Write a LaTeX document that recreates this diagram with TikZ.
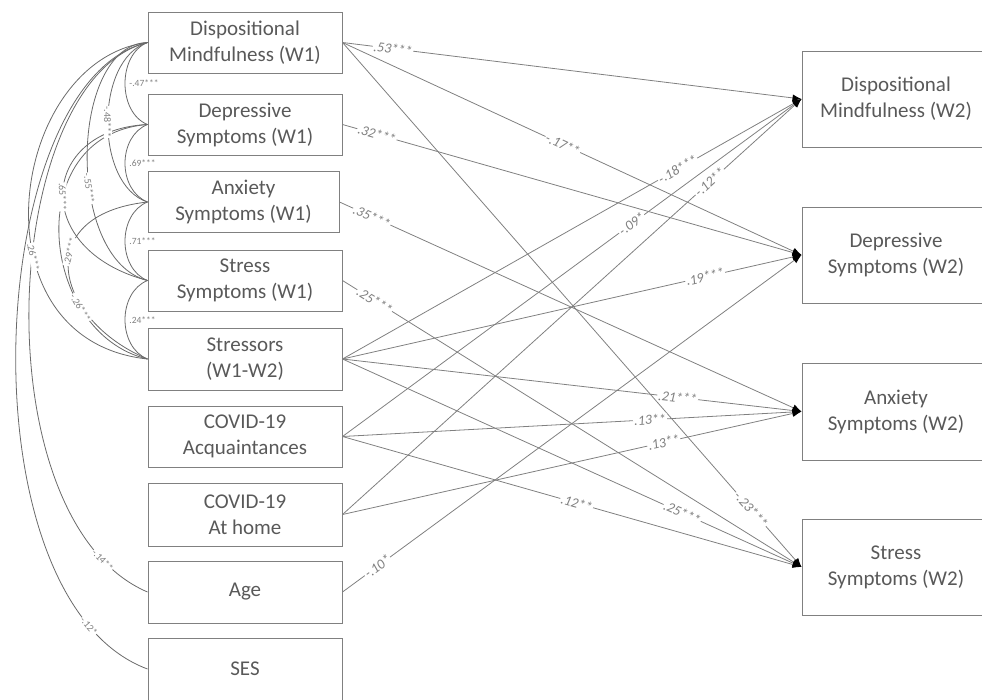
\documentclass[tikz,border=0pt]{standalone}
\usepackage{fontspec}
\setmainfont{Carlito}
\usetikzlibrary{arrows.meta}
\definecolor{txt}{HTML}{595959}
\definecolor{ln}{HTML}{808080}
\definecolor{cv}{HTML}{6A6A6A}
\definecolor{lab}{HTML}{7F7F7F}
\begin{document}
\begin{tikzpicture}[x=1pt,y=-1pt,
  box/.style={draw=ln, line width=1pt, text=txt, font=\fontsize{21}{26}\selectfont, align=center, inner sep=0pt, minimum width=194pt, minimum height=61pt},
  rbox/.style={box, minimum width=188pt, minimum height=96pt},
  path/.style={draw=ln, line width=0.8pt, -{Latex[length=9pt,width=7pt,color=black]}},
  cov/.style={draw=cv, line width=0.8pt},
  coef/.style={font=\fontsize{14}{14}\selectfont\itshape, text=lab, fill=white, inner sep=1pt, sloped},
  acoef/.style={font=\fontsize{10}{10}\selectfont, text=lab, fill=white, inner sep=0.6pt, sloped},
  adj/.style={font=\fontsize{9.5}{9.5}\selectfont, text=lab, inner sep=0pt, anchor=west, xshift=4pt}]
\useasboundingbox (0,0) rectangle (982,699);
\clip (0,0) rectangle (982,699);
% left boxes
\node[box] (dm1) at (245,42.5) {Dispositional\\Mindfulness (W1)};
\node[box] (dep1) at (245,124.5) {Depressive\\Symptoms (W1)};
\node[box, minimum width=191pt] (anx1) at (243.5,202) {Anxiety\\Symptoms (W1)};
\node[box] (st1) at (245,280.5) {Stress\\Symptoms (W1)};
\node[box, minimum height=62pt] (sr) at (245,359) {Stressors\\(W1-W2)};
\node[box] (acq) at (245,436.5) {COVID-19\\Acquaintances};
\node[box, minimum height=63pt] (home) at (245,514.5) {COVID-19\\At home};
\node[box, minimum height=62pt] (age) at (245,592) {Age};
\node[box, minimum height=62pt] (ses) at (245,669) {SES};
% right boxes
\node[rbox] (dm2) at (896,99) {Dispositional\\Mindfulness (W2)};
\node[rbox] (dep2) at (896,255) {Depressive\\Symptoms (W2)};
\node[rbox, minimum height=97pt] (anx2) at (896,411.5) {Anxiety\\Symptoms (W2)};
\node[rbox] (st2) at (896,567) {Stress\\Symptoms (W2)};
% regression paths
\foreach \s/\e/\p/\mylab in {dm1/dm2/.11/.53***, dm1/dep2/.48/-.17**, dm1/st2/.89/-.23***,
  dep1/dep2/.075/.32***, anx1/anx2/.07/.35***, st1/st2/.07/.25***,
  sr/dm2/.73/-.18***, sr/dep2/.79/.19***, sr/anx2/.73/.21***, sr/st2/.74/.25***,
  acq/dm2/.63/-.09*, acq/anx2/.67/.13**, acq/st2/.51/.12**,
  home/dm2/.80/-.12**, home/anx2/.70/.13**, age/dep2/.076/-.10*}
  \draw[path] (\s.east) -- (\e.west);
\foreach \s/\e/\p/\mylab in {dm1/dm2/.11/.53***, dm1/dep2/.48/-.17**, dm1/st2/.89/-.23***,
  dep1/dep2/.075/.32***, anx1/anx2/.07/.35***, st1/st2/.07/.25***,
  sr/dm2/.73/-.18***, sr/dep2/.79/.19***, sr/anx2/.73/.21***, sr/st2/.74/.25***,
  acq/dm2/.63/-.09*, acq/anx2/.67/.13**, acq/st2/.51/.12**,
  home/dm2/.80/-.12**, home/anx2/.70/.13**, age/dep2/.076/-.10*}
  \path (\s.east) -- (\e.west) node[coef, pos=\p] {\mylab};
% covariances between adjacent boxes
\foreach \a/\b/\mylab in {dm1/dep1/-.47***, dep1/anx1/.69***, anx1/st1/.71***, st1/sr/.24***}
  \draw[cov] (\a.west) .. controls +(-30,12) and +(-30,-12) .. (\b.west) node[adj, pos=.5] {\mylab};
% longer covariances
\foreach \a/\b/\ax/\ay/\bx/\by in {dm1/anx1/-53/17/-53/-17, dm1/st1/-78/2/-83/-21,
  dm1/sr/-138/17/-178/-19, dm1/age/-148/37/-168/-72, dm1/ses/-163/37/-188/-70,
  dep1/st1/-108/5/-118/-31, dep1/sr/-128/10/-108/-25, anx1/sr/-118/13/-93/-39}
  \draw[cov] (\a.west) .. controls +(\ax,\ay) and +(\bx,\by) .. (\b.west);
\foreach \a/\b/\ax/\ay/\bx/\by/\p/\mylab in {dm1/anx1/-53/17/-53/-17/.5/-.48***,
  dm1/st1/-78/2/-83/-21/.6/-.55***, dm1/sr/-138/17/-178/-19/.63/.26***,
  dm1/age/-148/37/-168/-72/.9/-.14**, dm1/ses/-163/37/-188/-70/.88/-.12*,
  dep1/st1/-108/5/-118/-31/.52/.65***, dep1/sr/-128/10/-108/-25/.73/-.26***,
  anx1/sr/-118/13/-93/-39/.4/.29***}
  \path (\a.west) .. controls +(\ax,\ay) and +(\bx,\by) .. (\b.west) node[acoef, pos=\p] {\mylab};
\end{tikzpicture}
\end{document}
